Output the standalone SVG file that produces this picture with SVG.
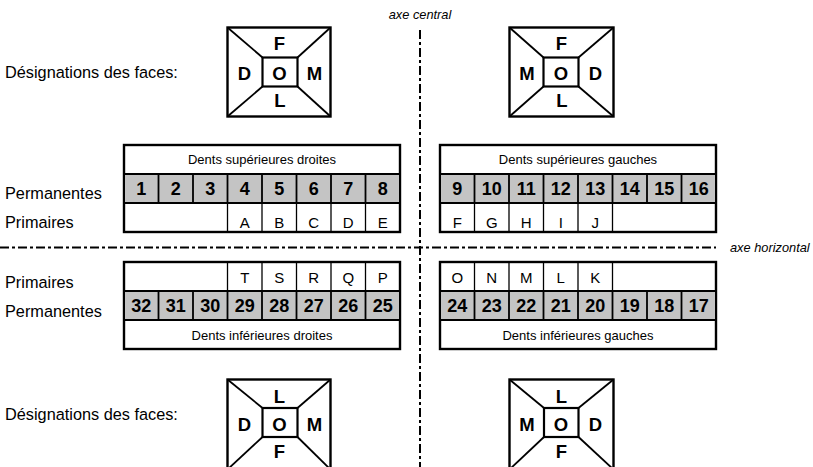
<svg xmlns="http://www.w3.org/2000/svg" width="813" height="467" viewBox="0 0 813 467">
<style>
  text { font-family: "Liberation Sans", Arial, sans-serif; fill: #000; }
  .lbl { font-size: 16.3px; }
  .hdr { font-size: 13px; text-anchor: middle; }
  .num { font-size: 18px; font-weight: bold; text-anchor: middle; }
  .let { font-size: 15px; text-anchor: middle; }
  .face { font-size: 18.5px; font-weight: bold; text-anchor: middle; }
  .axl { font-size: 12.8px; font-style: italic; }
  .outer { fill: #fff; stroke: #000; stroke-width: 2.4; }
  .grey { fill: #c4c4c4; stroke: none; }
  .hl { stroke: #000; stroke-width: 2; }
  .sepg { stroke: #000; stroke-width: 1.8; }
  .sepw { stroke: #000; stroke-width: 1.3; }
  .fbox { fill: #fff; stroke: #000; stroke-width: 2.4; }
  .fin { fill: none; stroke: #000; stroke-width: 2.2; }
  .diag { stroke: #000; stroke-width: 1.8; }
  .axis { stroke: #000; stroke-width: 2; stroke-dasharray: 9 3 3 3; fill: none; }
</style>

<g id="axes">
  <line class="axis" x1="420" y1="30" x2="420" y2="467"/>
  <line class="axis" x1="0" y1="247.5" x2="716" y2="247.5"/>
  <text class="axl" x="420" y="19" text-anchor="middle">axe central</text>
  <text class="axl" x="730" y="252">axe horizontal</text>
</g>

<g id="labels">
  <text class="lbl" x="5" y="78">Désignations des faces:</text>
  <text class="lbl" x="5" y="199">Permanentes</text>
  <text class="lbl" x="5" y="228">Primaires</text>
  <text class="lbl" x="5" y="288">Primaires</text>
  <text class="lbl" x="5" y="317">Permanentes</text>
  <text class="lbl" x="5" y="420">Désignations des faces:</text>
</g>

<g id="face-top-left">
  <rect class="fbox" x="227.5" y="27.5" width="103" height="89"/>
  <line class="diag" x1="227.5" y1="27.5" x2="262.5" y2="57.5"/>
  <line class="diag" x1="330.5" y1="27.5" x2="297.5" y2="57.5"/>
  <line class="diag" x1="227.5" y1="116.5" x2="262.5" y2="86.5"/>
  <line class="diag" x1="330.5" y1="116.5" x2="297.5" y2="86.5"/>
  <rect class="fin" x="262.5" y="57.5" width="35" height="29"/>
  <text class="face" x="279.5" y="50">F</text>
  <text class="face" x="244.5" y="80">D</text>
  <text class="face" x="279.5" y="80">O</text>
  <text class="face" x="314.5" y="80">M</text>
  <text class="face" x="280" y="106.5">L</text>
</g>

<g id="face-top-right">
  <rect class="fbox" x="509.5" y="27.5" width="104" height="89"/>
  <line class="diag" x1="509.5" y1="27.5" x2="543.5" y2="57.5"/>
  <line class="diag" x1="613.5" y1="27.5" x2="578.5" y2="57.5"/>
  <line class="diag" x1="509.5" y1="116.5" x2="543.5" y2="86.5"/>
  <line class="diag" x1="613.5" y1="116.5" x2="578.5" y2="86.5"/>
  <rect class="fin" x="543.5" y="57.5" width="35" height="29"/>
  <text class="face" x="561.5" y="50">F</text>
  <text class="face" x="527" y="80">M</text>
  <text class="face" x="561" y="80">O</text>
  <text class="face" x="595.5" y="80">D</text>
  <text class="face" x="562" y="106.5">L</text>
</g>

<g id="face-bottom-left">
  <rect class="fbox" x="227.5" y="379.5" width="103" height="90"/>
  <line class="diag" x1="227.5" y1="379.5" x2="262.5" y2="408"/>
  <line class="diag" x1="330.5" y1="379.5" x2="297.5" y2="408"/>
  <line class="diag" x1="227.5" y1="469.5" x2="262.5" y2="437"/>
  <line class="diag" x1="330.5" y1="469.5" x2="297.5" y2="437"/>
  <rect class="fin" x="262.5" y="408" width="35" height="29"/>
  <text class="face" x="279.5" y="403">L</text>
  <text class="face" x="244.5" y="430.5">D</text>
  <text class="face" x="279.5" y="430.5">O</text>
  <text class="face" x="314.5" y="430.5">M</text>
  <text class="face" x="279.5" y="458">F</text>
</g>

<g id="face-bottom-right">
  <rect class="fbox" x="509.5" y="379.5" width="104" height="90"/>
  <line class="diag" x1="509.5" y1="379.5" x2="544" y2="408"/>
  <line class="diag" x1="613.5" y1="379.5" x2="578.5" y2="408"/>
  <line class="diag" x1="509.5" y1="469.5" x2="544" y2="437"/>
  <line class="diag" x1="613.5" y1="469.5" x2="578.5" y2="437"/>
  <rect class="fin" x="544" y="408" width="34.5" height="29"/>
  <text class="face" x="561.5" y="403">L</text>
  <text class="face" x="527" y="430.5">M</text>
  <text class="face" x="561" y="430.5">O</text>
  <text class="face" x="595.5" y="430.5">D</text>
  <text class="face" x="561.5" y="458">F</text>
</g>

<g id="table-upper-right-teeth">
  <rect class="outer" x="124" y="145" width="276" height="87"/>
  <rect class="grey" x="125" y="174" width="274" height="29"/>
  <line class="hl" x1="124" y1="174" x2="400" y2="174"/>
  <line class="hl" x1="124" y1="203" x2="400" y2="203"/>
  <g class="sepg">
    <line x1="158.5" y1="174" x2="158.5" y2="203"/>
    <line x1="193" y1="174" x2="193" y2="203"/>
    <line x1="227.5" y1="174" x2="227.5" y2="203"/>
    <line x1="262" y1="174" x2="262" y2="203"/>
    <line x1="296.5" y1="174" x2="296.5" y2="203"/>
    <line x1="331" y1="174" x2="331" y2="203"/>
    <line x1="365.5" y1="174" x2="365.5" y2="203"/>
  </g>
  <g class="sepw">
    <line x1="227.5" y1="203" x2="227.5" y2="232"/>
    <line x1="262" y1="203" x2="262" y2="232"/>
    <line x1="296.5" y1="203" x2="296.5" y2="232"/>
    <line x1="331" y1="203" x2="331" y2="232"/>
    <line x1="365.5" y1="203" x2="365.5" y2="232"/>
  </g>
  <text class="hdr" x="262" y="164">Dents supérieures droites</text>
  <text class="num" x="141.25" y="195">1</text>
  <text class="num" x="175.75" y="195">2</text>
  <text class="num" x="210.25" y="195">3</text>
  <text class="num" x="244.75" y="195">4</text>
  <text class="num" x="279.25" y="195">5</text>
  <text class="num" x="313.75" y="195">6</text>
  <text class="num" x="348.25" y="195">7</text>
  <text class="num" x="382.75" y="195">8</text>
  <text class="let" x="244.75" y="228">A</text>
  <text class="let" x="279.25" y="228">B</text>
  <text class="let" x="313.75" y="228">C</text>
  <text class="let" x="348.25" y="228">D</text>
  <text class="let" x="382.75" y="228">E</text>
</g>

<g id="table-upper-left-teeth">
  <rect class="outer" x="440" y="145" width="276" height="87"/>
  <rect class="grey" x="441" y="174" width="274" height="29"/>
  <line class="hl" x1="440" y1="174" x2="716" y2="174"/>
  <line class="hl" x1="440" y1="203" x2="716" y2="203"/>
  <g class="sepg">
    <line x1="474.5" y1="174" x2="474.5" y2="203"/>
    <line x1="509" y1="174" x2="509" y2="203"/>
    <line x1="543.5" y1="174" x2="543.5" y2="203"/>
    <line x1="578" y1="174" x2="578" y2="203"/>
    <line x1="612.5" y1="174" x2="612.5" y2="203"/>
    <line x1="647" y1="174" x2="647" y2="203"/>
    <line x1="681.5" y1="174" x2="681.5" y2="203"/>
  </g>
  <g class="sepw">
    <line x1="474.5" y1="203" x2="474.5" y2="232"/>
    <line x1="509" y1="203" x2="509" y2="232"/>
    <line x1="543.5" y1="203" x2="543.5" y2="232"/>
    <line x1="578" y1="203" x2="578" y2="232"/>
    <line x1="612.5" y1="203" x2="612.5" y2="232"/>
  </g>
  <text class="hdr" x="578" y="164">Dents supérieures gauches</text>
  <text class="num" x="457.25" y="195">9</text>
  <text class="num" x="491.75" y="195">10</text>
  <text class="num" x="526.25" y="195">11</text>
  <text class="num" x="560.75" y="195">12</text>
  <text class="num" x="595.25" y="195">13</text>
  <text class="num" x="629.75" y="195">14</text>
  <text class="num" x="664.25" y="195">15</text>
  <text class="num" x="698.75" y="195">16</text>
  <text class="let" x="457.25" y="228">F</text>
  <text class="let" x="491.75" y="228">G</text>
  <text class="let" x="526.25" y="228">H</text>
  <text class="let" x="560.75" y="228">I</text>
  <text class="let" x="595.25" y="228">J</text>
</g>

<g id="table-lower-right-teeth">
  <rect class="outer" x="124" y="262" width="276" height="87"/>
  <rect class="grey" x="125" y="291" width="274" height="29"/>
  <line class="hl" x1="124" y1="291" x2="400" y2="291"/>
  <line class="hl" x1="124" y1="320" x2="400" y2="320"/>
  <g class="sepw">
    <line x1="227.5" y1="262" x2="227.5" y2="291"/>
    <line x1="262" y1="262" x2="262" y2="291"/>
    <line x1="296.5" y1="262" x2="296.5" y2="291"/>
    <line x1="331" y1="262" x2="331" y2="291"/>
    <line x1="365.5" y1="262" x2="365.5" y2="291"/>
  </g>
  <g class="sepg">
    <line x1="158.5" y1="291" x2="158.5" y2="320"/>
    <line x1="193" y1="291" x2="193" y2="320"/>
    <line x1="227.5" y1="291" x2="227.5" y2="320"/>
    <line x1="262" y1="291" x2="262" y2="320"/>
    <line x1="296.5" y1="291" x2="296.5" y2="320"/>
    <line x1="331" y1="291" x2="331" y2="320"/>
    <line x1="365.5" y1="291" x2="365.5" y2="320"/>
  </g>
  <text class="let" x="244.75" y="283">T</text>
  <text class="let" x="279.25" y="283">S</text>
  <text class="let" x="313.75" y="283">R</text>
  <text class="let" x="348.25" y="283">Q</text>
  <text class="let" x="382.75" y="283">P</text>
  <text class="num" x="141.25" y="312">32</text>
  <text class="num" x="175.75" y="312">31</text>
  <text class="num" x="210.25" y="312">30</text>
  <text class="num" x="244.75" y="312">29</text>
  <text class="num" x="279.25" y="312">28</text>
  <text class="num" x="313.75" y="312">27</text>
  <text class="num" x="348.25" y="312">26</text>
  <text class="num" x="382.75" y="312">25</text>
  <text class="hdr" x="262" y="340">Dents inférieures droites</text>
</g>

<g id="table-lower-left-teeth">
  <rect class="outer" x="440" y="262" width="276" height="87"/>
  <rect class="grey" x="441" y="291" width="274" height="29"/>
  <line class="hl" x1="440" y1="291" x2="716" y2="291"/>
  <line class="hl" x1="440" y1="320" x2="716" y2="320"/>
  <g class="sepw">
    <line x1="474.5" y1="262" x2="474.5" y2="291"/>
    <line x1="509" y1="262" x2="509" y2="291"/>
    <line x1="543.5" y1="262" x2="543.5" y2="291"/>
    <line x1="578" y1="262" x2="578" y2="291"/>
    <line x1="612.5" y1="262" x2="612.5" y2="291"/>
  </g>
  <g class="sepg">
    <line x1="474.5" y1="291" x2="474.5" y2="320"/>
    <line x1="509" y1="291" x2="509" y2="320"/>
    <line x1="543.5" y1="291" x2="543.5" y2="320"/>
    <line x1="578" y1="291" x2="578" y2="320"/>
    <line x1="612.5" y1="291" x2="612.5" y2="320"/>
    <line x1="647" y1="291" x2="647" y2="320"/>
    <line x1="681.5" y1="291" x2="681.5" y2="320"/>
  </g>
  <text class="let" x="457.25" y="283">O</text>
  <text class="let" x="491.75" y="283">N</text>
  <text class="let" x="526.25" y="283">M</text>
  <text class="let" x="560.75" y="283">L</text>
  <text class="let" x="595.25" y="283">K</text>
  <text class="num" x="457.25" y="312">24</text>
  <text class="num" x="491.75" y="312">23</text>
  <text class="num" x="526.25" y="312">22</text>
  <text class="num" x="560.75" y="312">21</text>
  <text class="num" x="595.25" y="312">20</text>
  <text class="num" x="629.75" y="312">19</text>
  <text class="num" x="664.25" y="312">18</text>
  <text class="num" x="698.75" y="312">17</text>
  <text class="hdr" x="578" y="340">Dents inférieures gauches</text>
</g>
</svg>
